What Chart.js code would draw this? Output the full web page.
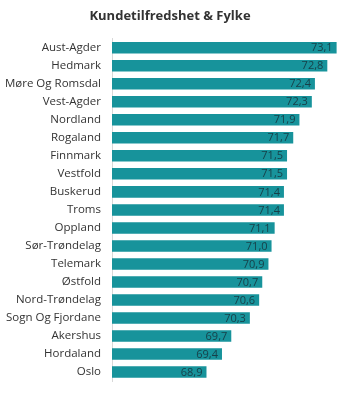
<!DOCTYPE html>
<html><head><meta charset="utf-8">
<script src="https://cdn.jsdelivr.net/npm/chart.js@4/dist/chart.umd.min.js"></script>
<style>html,body{margin:0;padding:0;background:#fff}#wrap{width:353px;height:399px;position:relative}</style>
</head><body><div id="wrap"><canvas id="c" width="353" height="399"></canvas></div>
<script>
const title = "Kundetilfredshet & Fylke";
const categories = ["Aust-Agder","Hedmark","Møre Og Romsdal","Vest-Agder","Nordland","Rogaland","Finnmark","Vestfold","Buskerud","Troms","Oppland","Sør-Trøndelag","Telemark","Østfold","Nord-Trøndelag","Sogn Og Fjordane","Akershus","Hordaland","Oslo"];
const values = [73.1,72.8,72.4,72.3,71.9,71.7,71.5,71.5,71.4,71.4,71.1,71.0,70.9,70.7,70.6,70.3,69.7,69.4,68.9];

const titlePlugin = {
  id:'titleP',
  afterDraw(chart){
    const ctx=chart.ctx; ctx.save();
    ctx.font='bold 13px "Open Sans", sans-serif';
    ctx.fillStyle='#333';
    ctx.textAlign='center'; ctx.textBaseline='middle';
    ctx.fillText(title,170,16);
    ctx.restore();
  }
};
const valuePlugin = {
  id:'valP',
  afterDatasetsDraw(chart){
    const ctx=chart.ctx; ctx.save();
    ctx.font='11px "Open Sans", sans-serif';
    ctx.fillStyle='#173f48';
    ctx.textAlign='right'; ctx.textBaseline='middle';
    chart.getDatasetMeta(0).data.forEach((b,i)=>{
      ctx.fillText(values[i].toFixed(1).replace('.',','), b.x-4, b.y+0.5);
    });
    ctx.restore();
  }
};
new Chart(document.getElementById('c'),{
  type:'bar',
  data:{labels:categories,datasets:[{data:values,backgroundColor:'#17939b',borderWidth:0,categoryPercentage:1,barPercentage:0.64}]},
  options:{
    indexAxis:'y',responsive:false,animation:false,
    layout:{padding:{top:38.7,bottom:7.7,left:0,right:4}},
    plugins:{legend:{display:false},tooltip:{enabled:false}},
    scales:{
      x:{display:false,min:65.85,max:73.5},
      y:{
        grid:{display:false,drawTicks:false},
        border:{display:true,color:'#d8d8d8',width:1},
        ticks:{color:'#333',font:{family:'"Open Sans", sans-serif',size:11.5},padding:11,autoSkip:false},
        afterFit(s){s.width=112;}
      }
    }
  },
  plugins:[titlePlugin,valuePlugin]
});
</script></body></html>
